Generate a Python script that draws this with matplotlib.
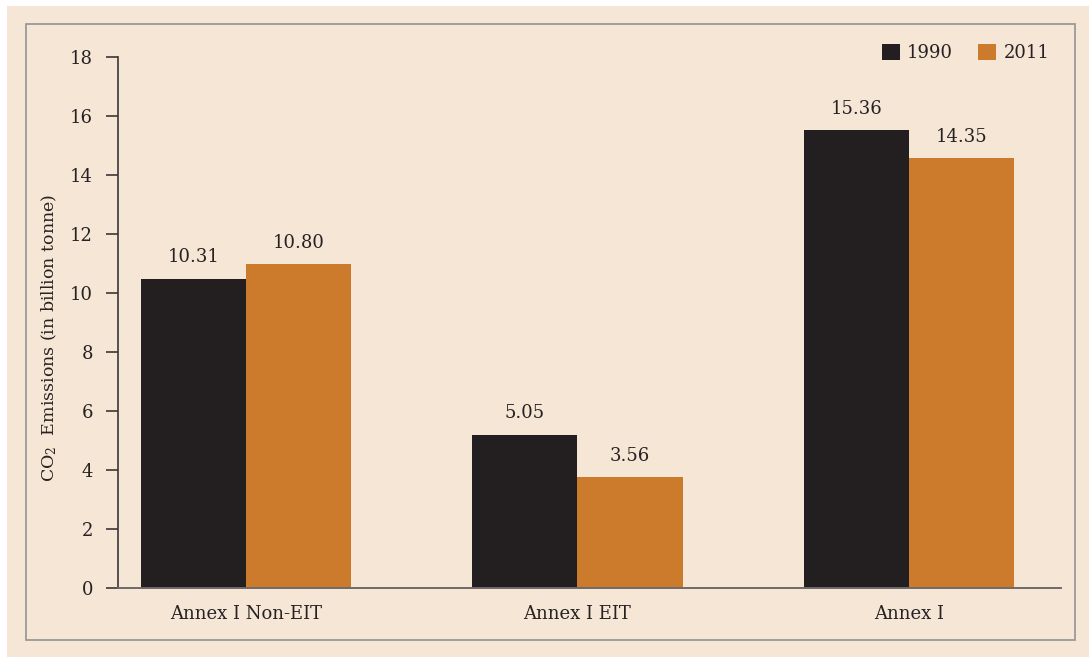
import numpy as np
import matplotlib
matplotlib.use('Agg')
from matplotlib import pyplot as plt
from matplotlib.patches import Rectangle

# podaci
kategorije = ['Annex I Non-EIT', 'Annex I EIT', 'Annex I']
godine = ['1990', '2011']
visine_1990 = [10.49, 5.20, 15.52]
visine_2011 = [10.97, 3.76, 14.57]
oznake_1990 = ['10.31', '5.05', '15.36']
oznake_2011 = ['10.80', '3.56', '14.35']
y_ticks = [0, 2, 4, 6, 8, 10, 12, 14, 16, 18]

boja_1990 = '#231F20'
boja_2011 = '#CC7A2C'
pozadina = '#F5E6D5'
tekst = '#262223'

plt.rcParams['font.family'] = ['DejaVu Serif']
plt.rcParams['mathtext.fontset'] = 'dejavuserif'

fig = plt.figure(figsize=(10.89, 6.57), dpi=100)
fig.patch.set_facecolor('white')

# bež pozadina i okvir
fig.patches.append(Rectangle((7 / 1089, 0), 1 - 7 / 1089, 1 - 6 / 657,
                             transform=fig.transFigure, facecolor=pozadina,
                             edgecolor='none', zorder=-2))
fig.patches.append(Rectangle((26 / 1089, 1 - 640 / 657), (1075 - 26) / 1089, (640 - 24) / 657,
                             transform=fig.transFigure, facecolor='none',
                             edgecolor='#9A9A9A', linewidth=1.3, zorder=-1))

ax = fig.add_axes([118 / 1089, 1 - 588 / 657, (1061 - 118) / 1089, (588 - 57) / 657])
ax.set_facecolor('none')
ax.set_zorder(3)

x = np.arange(len(kategorije))
sirina = 0.318
b1 = ax.bar(x - sirina / 2, visine_1990, sirina, color=boja_1990, label=godine[0], zorder=2)
b2 = ax.bar(x + sirina / 2, visine_2011, sirina, color=boja_2011, label=godine[1], zorder=2)

for stupci, oznake in [(b1, oznake_1990), (b2, oznake_2011)]:
    for s, o in zip(stupci, oznake):
        ax.annotate(o, (s.get_x() + s.get_width() / 2, s.get_height()),
                    xytext=(0, 9), textcoords='offset points',
                    ha='center', va='bottom', fontsize=13, color=tekst)

ax.set_xlim(-0.386, 2.4585)
ax.set_ylim(0, 18)
ax.set_yticks(y_ticks)
ax.set_xticks(x)
ax.set_xticklabels(kategorije, fontsize=13, color=tekst)
ax.tick_params(axis='x', length=0, pad=12)
ax.tick_params(axis='y', length=9, width=1.2, color='#3A3637', labelsize=13,
               labelcolor=tekst, pad=9)

for strana in ['top', 'right']:
    ax.spines[strana].set_visible(False)
ax.spines['left'].set_color('#3A3637')
ax.spines['left'].set_linewidth(1.2)
ax.spines['bottom'].set_color('#6E6A6A')
ax.spines['bottom'].set_linewidth(1.4)

fig.text(49 / 1089, 1 - 338 / 657, 'CO$_2$  Emissions (in billion tonne)',
         rotation=90, ha='center', va='center', fontsize=12.5, color=tekst)

ax.legend(loc='upper right', bbox_to_anchor=(1.005, 1.055), ncol=2, frameon=False,
          fontsize=13, handlelength=1.0, handleheight=1.0, handletextpad=0.4,
          columnspacing=1.4, labelcolor=tekst)

fig.savefig('out.png', dpi=100, facecolor=fig.get_facecolor())
